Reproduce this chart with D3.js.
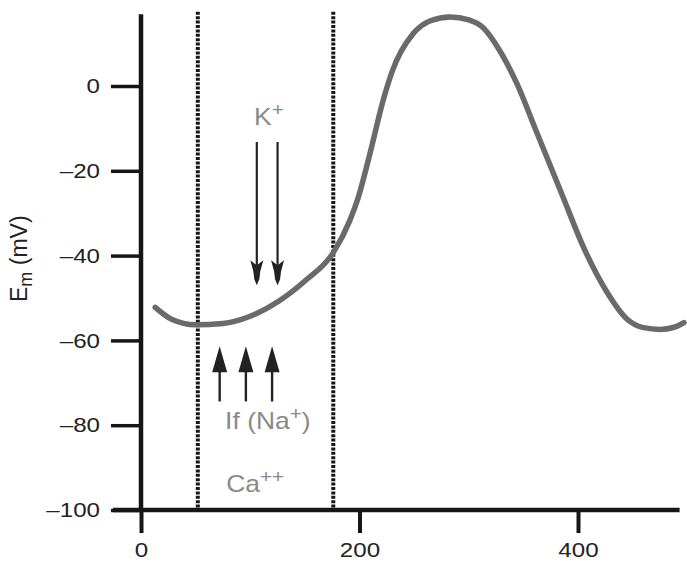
<!DOCTYPE html>
<html><head><meta charset="utf-8">
<script src="https://cdn.jsdelivr.net/npm/d3@7"></script>
<style>body{margin:0;background:#fff}</style>
</head><body>
<svg id="c" width="687" height="562"></svg>
<script>
// ---- data ----
const xTicks = [0, 200, 400];
const yTicks = [0, -20, -40, -60, -80, -100];
const timeMs = [13, 28, 50, 75, 100, 127, 150, 176, 191, 198, 210, 221, 230, 249, 265, 283, 300, 313, 328, 344, 362, 386, 405, 426, 445, 460, 475, 488, 497];
const potential = [-52.2, -55, -56.3, -56, -54.3, -50.6, -46, -39.3, -31.8, -27, -15.5, -4, 3.5, 12.3, 15.4, 16.3, 15.6, 13.8, 8.5, 0.6, -10.8, -26, -38, -48.4, -55, -57, -57.4, -56.9, -55.8];
const boundaries = [52, 176];
const kArrowX = [106, 125];
const kArrowFromTo = [-13.2, -47];
const ifArrowX = [72, 96, 120];
const ifArrowFromTo = [-74.4, -61.4];
const ionLabels = [
  {base: "K", sup: "+", post: "", x: 103.5, y: -9.2},
  {base: "If (Na", sup: "+", post: ")", x: 77, y: -81},
  {base: "Ca", sup: "++", post: "", x: 78, y: -95.8}
];
const yLabel = {main: "E", sub: "m", rest: " (mV)"};

// ---- scales ----
const svg = d3.select("#c");
const x = d3.scaleLinear().domain([0, 500]).range([141, 687.25]);
const y = d3.scaleLinear().domain([-100, 0]).range([510, 86]);
const SX = 1.15;
const font = "'Liberation Sans', Arial, Helvetica, sans-serif";
const ink = "#161616";

// dotted boundaries
svg.selectAll("line.bound").data(boundaries).join("line")
  .attr("x1", d => x(d)).attr("x2", d => x(d))
  .attr("y1", y(17.5)).attr("y2", y(-100))
  .attr("stroke", ink).attr("stroke-width", 4).attr("stroke-dasharray", "3,1.4");

// membrane potential curve
const line = d3.line().x((d, i) => x(timeMs[i])).y(d => y(d)).curve(d3.curveMonotoneX);
svg.append("path").datum(potential).attr("d", line)
  .attr("fill", "none").attr("stroke", "#6a6a6a").attr("stroke-width", 5.5).attr("stroke-linecap", "round");

// y axis
const yAxis = d3.axisLeft(y).tickValues(yTicks).tickSize(30).tickPadding(11)
  .tickFormat(d => d === 0 ? "0" : "\u2013" + Math.abs(d));
const gy = svg.append("g").attr("transform", `translate(${x(0)},0)`).call(yAxis);
gy.select(".domain").remove();
gy.selectAll(".tick line").attr("stroke", ink).attr("stroke-width", 3.5);
gy.selectAll(".tick text").attr("fill", "#222").attr("font-family", font).attr("font-size", 21)
  .attr("x", -41 / SX).attr("transform", `scale(${SX},1)`);
svg.append("line").attr("x1", x(0)).attr("x2", x(0)).attr("y1", y(16.9)).attr("y2", y(-100))
  .attr("stroke", ink).attr("stroke-width", 4.5);

// x axis
const xAxis = d3.axisBottom(x).tickValues(xTicks).tickSize(23).tickPadding(9);
const gx = svg.append("g").attr("transform", `translate(0,${y(-100)})`).call(xAxis);
gx.select(".domain").remove();
gx.selectAll(".tick line").attr("stroke", ink).attr("stroke-width", 4);
gx.selectAll(".tick text").attr("fill", "#222").attr("font-family", font).attr("font-size", 21)
  .attr("transform", `scale(${SX},1)`);
const xEnd = 493;
svg.append("line").attr("x1", x(0) - 28).attr("x2", x(xEnd)).attr("y1", y(-100)).attr("y2", y(-100))
  .attr("stroke", ink).attr("stroke-width", 4.5);

// arrows
const shaft = "#222";
kArrowX.forEach(t => {
  const x0 = x(t), y0 = y(kArrowFromTo[0]), y1 = y(kArrowFromTo[1]);
  svg.append("line").attr("x1", x0).attr("x2", x0).attr("y1", y0).attr("y2", y1 - 20)
    .attr("stroke", shaft).attr("stroke-width", 2.2);
  svg.append("path").attr("transform", `translate(${x0},${y1})`)
    .attr("d", "M0,0 L-2.5,-6 L-3.5,-14 L-6.5,-25 L0,-20 L6.5,-25 L3.5,-14 L2.5,-6 Z")
    .attr("fill", shaft);
});
ifArrowX.forEach(t => {
  const x0 = x(t), y0 = y(ifArrowFromTo[0]), y1 = y(ifArrowFromTo[1]);
  svg.append("line").attr("x1", x0).attr("x2", x0).attr("y1", y0).attr("y2", y1 + 20)
    .attr("stroke", shaft).attr("stroke-width", 2.4);
  svg.append("path").attr("transform", `translate(${x0},${y1})`)
    .attr("d", "M0,0 L-7.5,26 L7.5,26 Z").attr("fill", shaft);
});

// ion labels
ionLabels.forEach(l => {
  const t = svg.append("text").attr("transform", `translate(${x(l.x)},${y(l.y)}) scale(${SX},1)`)
    .attr("font-family", font).attr("font-size", 23).attr("fill", "#8a8a8a");
  t.append("tspan").text(l.base);
  t.append("tspan").attr("dy", -9).attr("font-size", 18).text(l.sup);
  if (l.post) t.append("tspan").attr("dy", 9).text(l.post);
});

// y label
const yl = svg.append("text").attr("transform", `translate(27,302) rotate(-90)`)
  .attr("font-family", font).attr("font-size", 23).attr("fill", "#222");
yl.append("tspan").text(yLabel.main);
yl.append("tspan").attr("dy", 5).attr("font-size", 18).text(yLabel.sub);
yl.append("tspan").attr("dy", -5).text(yLabel.rest);
</script>
</body></html>
